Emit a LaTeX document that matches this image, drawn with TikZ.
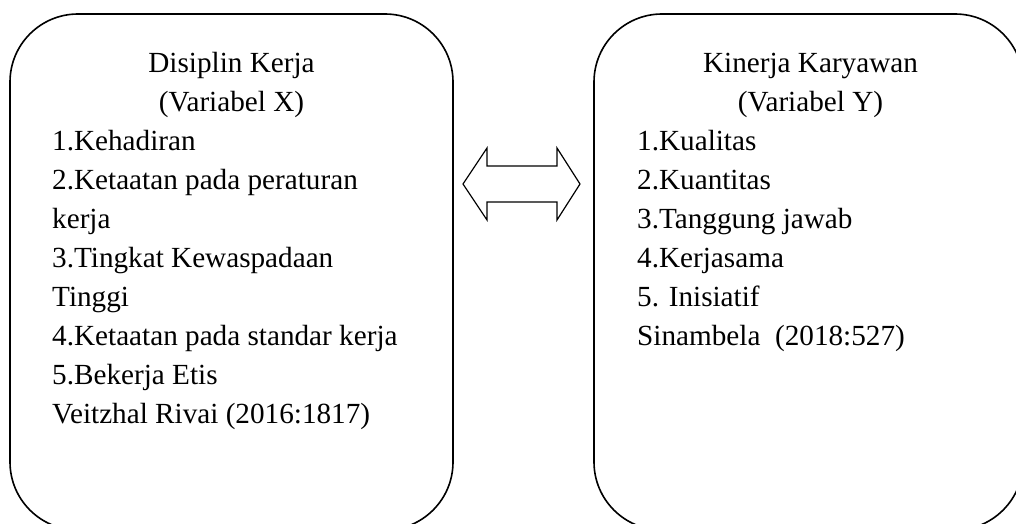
\documentclass[tikz,border=0pt]{standalone}
\usepackage{fontspec}
\setmainfont{Liberation Serif}
\begin{document}
\begin{tikzpicture}[x=1bp,y=-1bp,
  box/.style={draw,line width=1.6bp,rounded corners=68bp},
  txt/.style={inner sep=0pt,anchor=base west,font=\fontsize{29.2bp}{38.9bp}\selectfont},
  head/.style={inner sep=0pt,anchor=base,font=\fontsize{29.2bp}{38.9bp}\selectfont},
  blockarrow/.style={draw,line width=1.2bp,line join=miter}]
\useasboundingbox (0,0) rectangle (1016,524);
\clip (0,0) rectangle (1016,524);
% boxes
\draw[box] (10,14) rectangle (453,530);
\draw[box] (594,14) rectangle (1023,530);
\coordinate (L) at (231.5,0);
\coordinate (R) at (808.5,0);
% left text
\node[head] (lh1) at (231.5,73) {Disiplin Kerja};
\node[head] (lh2) at (231.5,112) {(Variabel X)};
\foreach \t [count=\i from 3] in {{1.Kehadiran},{2.Ketaatan pada peraturan},{kerja},{3.Tingkat Kewaspadaan},{Tinggi},{4.Ketaatan pada standar kerja},{5.Bekerja Etis},{Veitzhal Rivai (2016:1817)}}
  \node[txt] (l\i) at (52,{73+(\i-1)*38.9}) {\t};
% right text
\node[head] (rh1) at (810.5,73) {Kinerja Karyawan};
\node[head] (rh2) at (810.5,112) {(Variabel Y)};
\foreach \t [count=\i from 3] in {{1.Kualitas},{2.Kuantitas},{3.Tanggung jawab},{4.Kerjasama},{5. Inisiatif},{Sinambela\ \ (2018:527)}}
  \node[txt] (r\i) at (637,{73+(\i-1)*38.9}) {\t};
% double block arrow
\coordinate (al) at (463,184);
\coordinate (ar) at (580,184);
\draw[blockarrow] (al) -- ++(24,-36) -- ++(0,18) -- ++(70,0) -- ++(0,-18) -- (ar)
  -- ++(-23,36) -- ++(0,-18) -- ++(-70,0) -- ++(0,18) -- cycle;
\end{tikzpicture}
\end{document}
